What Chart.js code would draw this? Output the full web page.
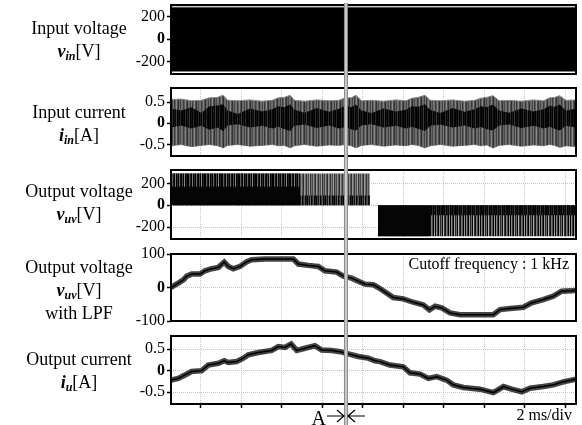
<!DOCTYPE html>
<html>
<head>
<meta charset="utf-8">
<script src="https://cdn.jsdelivr.net/npm/chart.js"></script>
<style>
  body { margin: 0; width: 582px; height: 425px; position: relative; overflow: hidden; background: #fff; font-family: "Liberation Serif", "Times New Roman", serif; }
  canvas { position: absolute; left: 0; }
  .lbl { position: absolute; left: 0; width: 158px; text-align: center; font-size: 18px; line-height: 23px; color: #000; z-index: 2; }
  .lbl sub { font-size: 12px; line-height: 0; vertical-align: -3px; }
</style>
</head>
<body>
<canvas id="vinChart" width="582" height="81" style="top:0px"></canvas>
<canvas id="iinChart" width="582" height="82" style="top:81px"></canvas>
<canvas id="vuvChart" width="582" height="84" style="top:163px"></canvas>
<canvas id="lpfChart" width="582" height="82" style="top:247px"></canvas>
<canvas id="iuChart" width="582" height="96" style="top:329px"></canvas>

<div class="lbl" style="top:17px">Input voltage<br><b><i>v</i></b><sub><b><i>in</i></b></sub>[V]</div>
<div class="lbl" style="top:101px">Input current<br><b><i>i</i></b><sub><b><i>in</i></b></sub>[A]</div>
<div class="lbl" style="top:180px">Output voltage<br><b><i>v</i></b><sub><b><i>uv</i></b></sub>[V]</div>
<div class="lbl" style="top:256px">Output voltage<br><b><i>v</i></b><sub><b><i>uv</i></b></sub>[V]<br>with LPF</div>
<div class="lbl" style="top:348px">Output current<br><b><i>i</i></b><sub><b><i>u</i></b></sub>[A]</div>

<script>
// ----------------- DATA (time in ms, 2 ms/div) -----------------
const xTicksMs = [1.48, 3.48, 5.48, 7.48, 9.48, 11.48, 13.48, 15.48, 17.48, 19.48];
const cursorMs = 8.64;

// input voltage: fast switching, shows as a solid band
const vinT = [0, 20];
const vinTop = [286, 286];
const vinBot = [-287, -287];
const vinTicks = [-200, 0, 200];

// input current envelope + dark core
const iinT = [0, 0.5, 1.0, 1.5, 1.9, 2.3, 2.57, 2.8, 3.3, 3.9, 4.5, 5.0, 5.3, 5.6, 5.88, 6.1, 6.6, 7.2, 7.8, 8.3, 8.6, 8.9, 9.14, 9.4, 9.9, 10.5, 11.1, 11.6, 11.9, 12.2, 12.54, 12.8, 13.3, 13.9, 14.5, 15.0, 15.3, 15.6, 15.9, 16.2, 16.7, 17.3, 17.9, 18.4, 18.7, 18.95, 19.2, 19.5, 20];
const iinTop = [0.56, 0.57, 0.53, 0.54, 0.60, 0.61, 0.66, 0.54, 0.53, 0.55, 0.52, 0.54, 0.60, 0.61, 0.66, 0.54, 0.52, 0.55, 0.53, 0.54, 0.60, 0.60, 0.66, 0.53, 0.54, 0.52, 0.55, 0.53, 0.59, 0.61, 0.66, 0.54, 0.53, 0.55, 0.52, 0.54, 0.59, 0.61, 0.65, 0.53, 0.54, 0.52, 0.55, 0.53, 0.60, 0.61, 0.65, 0.54, 0.55];
const iinBot = [-0.53, -0.50, -0.55, -0.52, -0.50, -0.53, -0.58, -0.52, -0.50, -0.54, -0.52, -0.50, -0.53, -0.52, -0.58, -0.53, -0.50, -0.54, -0.51, -0.52, -0.50, -0.53, -0.58, -0.52, -0.50, -0.54, -0.51, -0.53, -0.50, -0.52, -0.58, -0.53, -0.50, -0.54, -0.52, -0.50, -0.53, -0.51, -0.58, -0.52, -0.50, -0.54, -0.51, -0.53, -0.50, -0.52, -0.57, -0.53, -0.55];
const iinCoreTop = [0.35, 0.30, 0.38, 0.25, 0.40, 0.42, 0.45, 0.30, 0.22, 0.35, 0.28, 0.33, 0.40, 0.38, 0.45, 0.32, 0.25, 0.36, 0.27, 0.34, 0.41, 0.38, 0.44, 0.30, 0.24, 0.35, 0.28, 0.32, 0.40, 0.39, 0.45, 0.31, 0.24, 0.36, 0.27, 0.33, 0.40, 0.38, 0.44, 0.30, 0.25, 0.35, 0.28, 0.33, 0.41, 0.39, 0.44, 0.30, 0.34];
const iinCoreBot = [-0.10, -0.05, -0.12, -0.06, -0.15, -0.10, -0.18, -0.05, -0.02, -0.10, -0.06, -0.12, -0.08, -0.14, -0.18, -0.06, -0.03, -0.11, -0.05, -0.12, -0.09, -0.14, -0.17, -0.05, -0.02, -0.10, -0.06, -0.12, -0.08, -0.13, -0.18, -0.06, -0.03, -0.10, -0.05, -0.12, -0.09, -0.14, -0.17, -0.05, -0.03, -0.11, -0.06, -0.12, -0.08, -0.13, -0.17, -0.06, -0.10];
const iinTicks = [-0.5, 0, 0.5];

// output voltage (PWM): positive half then negative half
const vuvPosT = [0, 9.83];
const vuvPos = [292, 292];
const vuvPosDarkT = [0, 6.37];
const vuvPosDark = [170, 170];
const vuvPosMidT = [6.37, 9.83];
const vuvPosMid = [90, 90];
const vuvNegT = [10.22, 20];
const vuvNeg = [-282, -282];
const vuvNegDarkT = [10.22, 12.8];
const vuvNegDark = [-282, -282];
const vuvNegMidT = [12.8, 20];
const vuvNegMid = [-90, -90];
const vuvTicks = [-200, 0, 200];

// output voltage with LPF
const lpfT = [0, 0.36, 0.61, 0.78, 1.02, 1.43, 1.68, 2.01, 2.34, 2.63, 2.83, 3.08, 3.41, 3.74, 3.99, 4.64, 6.04, 6.29, 6.78, 7.27, 7.60, 8.18, 8.51, 8.92, 9.25, 9.58, 9.99, 10.24, 10.48, 10.98, 11.47, 11.96, 12.46, 12.76, 13.04, 13.37, 13.78, 14.27, 15.92, 16.25, 16.74, 17.40, 17.81, 18.38, 18.88, 19.29, 19.79, 20];
const lpfV = [0, 13, 23, 34, 40, 40, 50, 56, 60, 76, 63, 56, 63, 77, 83, 85, 85, 70, 66, 63, 50, 46, 34, 28, 19, 10, 8, 0, -10, -30, -34, -44, -52, -67, -56, -61, -76, -81, -81, -66, -63, -59, -46, -36, -26, -11, -10, -8];
const lpfTicks = [-100, 0, 100];

// output current
const iuT = [0, 0.36, 0.69, 1.02, 1.52, 1.84, 2.34, 2.63, 2.83, 3.24, 3.57, 3.82, 4.31, 4.97, 5.30, 5.63, 5.93, 6.21, 6.62, 7.11, 7.44, 7.94, 8.35, 8.76, 9.25, 9.74, 10.07, 10.32, 10.81, 11.47, 11.80, 12.30, 12.71, 13.12, 13.61, 13.94, 14.44, 15.26, 15.92, 16.42, 16.82, 17.32, 17.73, 18.38, 18.88, 19.37, 20];
const iuV = [-0.22, -0.18, -0.10, -0.02, 0, 0.13, 0.17, 0.23, 0.19, 0.21, 0.29, 0.37, 0.42, 0.47, 0.56, 0.54, 0.62, 0.47, 0.52, 0.58, 0.48, 0.47, 0.44, 0.39, 0.33, 0.29, 0.23, 0.21, 0.13, 0.09, -0.05, -0.08, -0.18, -0.14, -0.22, -0.33, -0.39, -0.43, -0.51, -0.37, -0.43, -0.49, -0.41, -0.37, -0.33, -0.26, -0.2];
const iuTicks = [-0.5, 0, 0.5];

// ----------------- HELPERS -----------------
const pts = (t, v) => t.map((x, i) => ({x: x, y: v[i]}));
const serif = '"Liberation Serif", "Times New Roman", serif';

// vertical streak texture (scope-trace look), used as a fill style
function streaks(shades) {
    const tile = document.createElement('canvas');
    tile.width = shades.length; tile.height = 1;
    const g = tile.getContext('2d');
    shades.forEach((s, i) => { g.fillStyle = s; g.fillRect(i, 0, 1, 1); });
    return c => c.chart.ctx.createPattern(tile, 'repeat');
}
const grayStreaks = streaks(['#4a4a4a', '#6e6e6e', '#6e6e6e', '#3c3c3c', '#5a5a5a', '#828282', '#505050', '#2e2e2e', '#6a6a6a', '#6a6a6a', '#444', '#787878', '#3a3a3a', '#5e5e5e', '#8a8a8a', '#4e4e4e', '#333', '#646464']);
const blackStreaks = streaks(['#000', '#0e0e0e', '#000', '#2c2c2c', '#000', '#1a1a1a', '#050505', '#3c3c3c', '#000', '#141414', '#000', '#262626', '#080808']);
const posTopStreaks = streaks(['#000', '#000', '#5e5e5e', '#1a1a1a', '#000', '#7a7a7a', '#000', '#2a2a2a', '#000', '#686868', '#121212', '#000', '#4a4a4a', '#000', '#888', '#000', '#202020']);
const posMidStreaks = streaks(['#4a4a4a', '#8a8a8a', '#5a5a5a', '#2e2e2e', '#9a9a9a', '#6a6a6a', '#3a3a3a', '#7a7a7a', '#505050', '#a0a0a0', '#333', '#707070']);
const posLowStreaks = streaks(['#222', '#000', '#444', '#111', '#666', '#000', '#333', '#555', '#0a0a0a']);
const negLowStreaks = streaks(['#000', '#8a8a8a', '#3a3a3a', '#000', '#9a9a9a', '#2a2a2a', '#6a6a6a', '#0a0a0a', '#b0b0b0', '#333', '#111', '#7a7a7a', '#505050', '#000', '#999']);

// soften the switching traces a little, like the scope capture
const softPlugin = {
    id: 'soft',
    beforeDatasetsDraw(chart) { chart.ctx.filter = 'blur(0.6px)'; },
    afterDatasetsDraw(chart) { chart.ctx.filter = 'none'; }
};

const framePlugin = {
    id: 'frame',
    afterDatasetsDraw(chart) {
        const a = chart.chartArea, ctx = chart.ctx;
        ctx.save();
        ctx.filter = 'none';
        ctx.strokeStyle = '#000';
        ctx.lineWidth = 2;
        ctx.strokeRect(a.left, a.top, a.right - a.left, a.bottom - a.top);
        ctx.restore();
    }
};

function cursorPlugin(startY) {
    return {
        id: 'cursor',
        afterDraw(chart) {
            const ctx = chart.ctx;
            const x = chart.scales.x.getPixelForValue(cursorMs);
            ctx.save();
            ctx.strokeStyle = '#8c8c8c';
            ctx.lineWidth = 4;
            ctx.beginPath(); ctx.moveTo(x, startY); ctx.lineTo(x, chart.height); ctx.stroke();
            ctx.strokeStyle = '#dcdcdc';
            ctx.lineWidth = 1.5;
            ctx.beginPath(); ctx.moveTo(x, startY); ctx.lineTo(x, chart.height); ctx.stroke();
            ctx.restore();
        }
    };
}

function panelOptions(yTicks, yMin, yMax, padTop, padBottom, showXTicks) {
    return {
        responsive: false,
        animation: false,
        devicePixelRatio: 1,
        layout: {padding: {left: 0, right: 6, top: padTop, bottom: padBottom}},
        plugins: {legend: {display: false}, tooltip: {enabled: false}},
        elements: {point: {radius: 0}, line: {tension: 0}},
        scales: {
            x: {
                type: 'linear', min: 0, max: 20,
                afterBuildTicks: s => { s.ticks = xTicksMs.map(v => ({value: v})); },
                afterFit: s => { s.height = showXTicks ? 4 : 0; s.paddingLeft = 0; s.paddingRight = 0; },
                ticks: {display: false},
                grid: {color: '#c4c4c4', drawTicks: showXTicks, tickLength: 4, tickColor: '#000', tickWidth: 1.5},
                border: {display: false, dash: [1, 1]}
            },
            y: {
                min: yMin, max: yMax,
                afterBuildTicks: s => { s.ticks = yTicks.map(v => ({value: v})); },
                afterFit: s => { s.width = 171; s.paddingTop = 0; s.paddingBottom = 0; },
                ticks: {
                    padding: 2, color: '#000',
                    callback: v => String(v),
                    font: c => ({family: serif, size: 16, weight: (c.tick && c.tick.value === 0) ? 'bold' : 'normal'})
                },
                grid: {color: '#c4c4c4', drawTicks: true, tickLength: 4, tickColor: '#000', tickWidth: 1.5},
                border: {display: false, dash: [1, 1]}
            }
        }
    };
}

// ----------------- INPUT VOLTAGE -----------------
new Chart(document.getElementById('vinChart'), {
    type: 'line',
    data: {datasets: [
        {data: pts(vinT, vinTop), borderWidth: 1, borderColor: '#9a9a9a', fill: '+1', backgroundColor: '#000'},
        {data: pts(vinT, vinBot), borderWidth: 1, borderColor: '#9a9a9a', fill: false}
    ]},
    options: panelOptions(vinTicks, -311, 304, 5, 7, false),
    plugins: [framePlugin, cursorPlugin(3)]
});

// ----------------- INPUT CURRENT -----------------
new Chart(document.getElementById('iinChart'), {
    type: 'line',
    data: {datasets: [
        {data: pts(iinT, iinCoreTop), borderWidth: 0, fill: '+1', backgroundColor: blackStreaks},
        {data: pts(iinT, iinCoreBot), borderWidth: 0, fill: false},
        {data: pts(iinT, iinTop), borderWidth: 1, borderColor: '#8a8a8a', fill: '+1', backgroundColor: grayStreaks},
        {data: pts(iinT, iinBot), borderWidth: 1, borderColor: '#8a8a8a', fill: false}
    ]},
    options: panelOptions(iinTicks, -0.77, 0.83, 7, 7, false),
    plugins: [softPlugin, framePlugin, cursorPlugin(0)]
});

// ----------------- OUTPUT VOLTAGE -----------------
new Chart(document.getElementById('vuvChart'), {
    type: 'line',
    data: {datasets: [
        {data: pts(vuvPosDarkT, vuvPosDark), borderWidth: 0, fill: 'origin', backgroundColor: '#050505'},
        {data: pts(vuvPosMidT, vuvPosMid), borderWidth: 0, fill: 'origin', backgroundColor: posLowStreaks},
        {data: pts(vuvPosDarkT, [292, 292]), borderWidth: 0, fill: 'origin', backgroundColor: posTopStreaks},
        {data: pts(vuvPosT, vuvPos), borderWidth: 0, fill: 'origin', backgroundColor: posMidStreaks},
        {data: pts(vuvNegDarkT, vuvNegDark), borderWidth: 0, fill: 'origin', backgroundColor: '#050505'},
        {data: pts(vuvNegMidT, vuvNegMid), borderWidth: 0, fill: 'origin', backgroundColor: blackStreaks},
        {data: pts(vuvNegT, vuvNeg), borderWidth: 0, fill: 'origin', backgroundColor: negLowStreaks}
    ]},
    options: panelOptions(vuvTicks, -308, 323, 7, 8, false),
    plugins: [softPlugin, framePlugin, cursorPlugin(0)]
});

// ----------------- OUTPUT VOLTAGE WITH LPF -----------------
const cutoffNote = {
    id: 'cutoffNote',
    afterDatasetsDraw(chart) {
        const a = chart.chartArea, ctx = chart.ctx;
        ctx.save();
        ctx.font = '16px ' + serif;
        ctx.fillStyle = '#000';
        ctx.textAlign = 'right';
        ctx.textBaseline = 'alphabetic';
        ctx.fillText('Cutoff frequency : 1 kHz', a.right - 7, a.top + 15);
        ctx.restore();
    }
};

new Chart(document.getElementById('lpfChart'), {
    type: 'line',
    data: {datasets: [
        {data: pts(lpfT, lpfV), borderColor: '#000', borderWidth: 1.5, fill: false},
        {data: pts(lpfT, lpfV), borderColor: 'rgba(35,35,35,0.85)', borderWidth: 5.5, fill: false}
    ]},
    options: panelOptions(lpfTicks, -100, 100, 7, 8, false),
    plugins: [framePlugin, cutoffNote, cursorPlugin(0)]
});

// ----------------- OUTPUT CURRENT -----------------
const bottomNotes = {
    id: 'bottomNotes',
    afterDraw(chart) {
        const a = chart.chartArea, ctx = chart.ctx;
        const cx = chart.scales.x.getPixelForValue(cursorMs);
        const y = a.bottom + 12;
        ctx.save();
        ctx.fillStyle = '#000';
        ctx.textBaseline = 'alphabetic';
        ctx.font = '16px ' + serif;
        ctx.textAlign = 'right';
        ctx.fillText('2 ms/div', a.right - 4, a.bottom + 16);
        ctx.font = '20px ' + serif;
        ctx.fillText('A', cx - 20, a.bottom + 21);
        ctx.strokeStyle = '#000';
        ctx.lineWidth = 1.2;
        ctx.beginPath();
        ctx.moveTo(cx - 19, y); ctx.lineTo(cx - 2, y);
        ctx.moveTo(cx - 9, y - 6); ctx.lineTo(cx - 2, y); ctx.lineTo(cx - 9, y + 6);
        ctx.moveTo(cx + 19, y); ctx.lineTo(cx + 2, y);
        ctx.moveTo(cx + 9, y - 6); ctx.lineTo(cx + 2, y); ctx.lineTo(cx + 9, y + 6);
        ctx.stroke();
        ctx.restore();
    }
};

new Chart(document.getElementById('iuChart'), {
    type: 'line',
    data: {datasets: [
        {data: pts(iuT, iuV), borderColor: '#000', borderWidth: 1.5, fill: false},
        {data: pts(iuT, iuV), borderColor: 'rgba(35,35,35,0.85)', borderWidth: 5.5, fill: false}
    ]},
    options: panelOptions(iuTicks, -0.775, 0.805, 7, 17, true),
    plugins: [framePlugin, cursorPlugin(0), bottomNotes]
});
</script>
</body>
</html>
